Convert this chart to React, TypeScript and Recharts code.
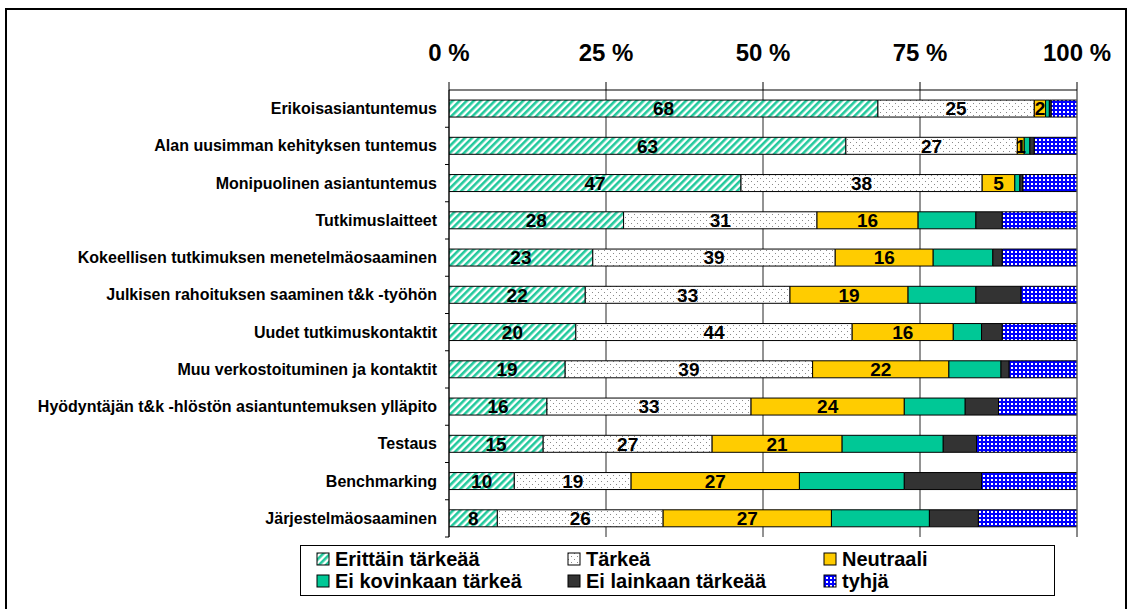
import { BarChart, Bar, XAxis, YAxis, CartesianGrid, LabelList, ReferenceLine } from 'recharts'

const categories = [
  'Erikoisasiantuntemus',
  'Alan uusimman kehityksen tuntemus',
  'Monipuolinen asiantuntemus',
  'Tutkimuslaitteet',
  'Kokeellisen tutkimuksen menetelmäosaaminen',
  'Julkisen rahoituksen saaminen t&k -työhön',
  'Uudet tutkimuskontaktit',
  'Muu verkostoituminen ja kontaktit',
  'Hyödyntäjän t&k -hlöstön asiantuntemuksen ylläpito',
  'Testaus',
  'Benchmarking',
  'Järjestelmäosaaminen',
]

const erittain = [68.3, 63.2, 46.5, 27.8, 22.9, 21.7, 20.2, 18.5, 15.6, 15.0, 10.4, 7.7]
const tarkea = [24.9, 27.3, 38.4, 30.8, 38.6, 32.6, 44.0, 39.4, 32.5, 26.9, 18.6, 26.4]
const neutraali = [1.8, 1.1, 5.2, 16.1, 15.6, 18.8, 16.1, 21.7, 24.4, 20.7, 26.8, 26.8]
const eiKovin = [0.6, 0.9, 0.8, 9.2, 9.5, 10.8, 4.5, 8.3, 9.7, 16.1, 16.7, 15.6]
const eiLain = [0.3, 0.7, 0.5, 4.2, 1.5, 7.2, 3.3, 1.3, 5.3, 5.3, 12.3, 7.8]
const tyhja = [4.1, 6.8, 8.6, 11.9, 11.9, 8.9, 11.9, 10.8, 12.5, 16.0, 15.2, 15.7]

const xTicks = [0, 25, 50, 75, 100]

const series = [
  { key: 'erittain', name: 'Erittäin tärkeää', fill: 'url(#hatch)', label: true },
  { key: 'tarkea', name: 'Tärkeä', fill: 'url(#dots)', label: true },
  { key: 'neutraali', name: 'Neutraali', fill: '#ffcc00', label: true },
  { key: 'eiKovin', name: 'Ei kovinkaan tärkeä', fill: '#00c896', label: false },
  { key: 'eiLain', name: 'Ei lainkaan tärkeää', fill: '#333333', label: false },
  { key: 'tyhja', name: 'tyhjä', fill: 'url(#plaid)', label: false },
]

const data = categories.map((name, i) => ({
  name,
  erittain: erittain[i],
  tarkea: tarkea[i],
  neutraali: neutraali[i],
  eiKovin: eiKovin[i],
  eiLain: eiLain[i],
  tyhja: tyhja[i],
}))

const FONT = '"Liberation Sans", Arial, sans-serif'
const PLOT_TOP = 90
const PLOT_BOTTOM = 537
const band = (PLOT_BOTTOM - PLOT_TOP) / categories.length

function CategoryTick(props: any) {
  const { x, y, payload } = props
  return (
    <g>
      <text
        x={x}
        y={y}
        textAnchor="end"
        dominantBaseline="central"
        fontFamily={FONT}
        fontWeight="bold"
        fontSize={16}
        fill="#000"
      >
        {payload.value}
      </text>
      <line x1={x + 8} x2={x + 12} y1={y + band / 2} y2={y + band / 2} stroke="#000" />
    </g>
  )
}

function Swatch({ fill }: { fill: string }) {
  return (
    <svg width={14} height={14} style={{ marginRight: 5, flexShrink: 0 }}>
      <rect x={1} y={1} width={12} height={12} fill={fill} stroke="#000" strokeWidth={1} />
    </svg>
  )
}

export default function App() {
  return (
    <div style={{ position: 'absolute', left: 0, top: 0, width: 1133, height: 609, background: '#fff', fontFamily: FONT }}>
      {/* outer frame */}
      <div style={{
        position: 'absolute', left: 5, top: 8, width: 1122, height: 610,
        border: '2px solid #000', boxSizing: 'border-box',
      }} />

      <BarChart
        width={1133}
        height={609}
        data={data}
        layout="vertical"
        margin={{ top: 40, right: 56, bottom: 72, left: 0 }}
        barCategoryGap="27%"
        style={{ position: 'absolute', left: 0, top: 0 }}
      >
        <defs>
          <pattern id="hatch" width={5} height={5} patternUnits="userSpaceOnUse" patternTransform="rotate(45)">
            <rect width={5} height={5} fill="#fff" />
            <rect width={2.6} height={5} fill="#22c99c" />
          </pattern>
          <pattern id="dots" width={6} height={6} patternUnits="userSpaceOnUse">
            <rect width={6} height={6} fill="#fff" />
            <rect x={1} y={1} width={1} height={1} fill="#8a8a8a" />
            <rect x={4} y={4} width={1} height={1} fill="#8a8a8a" />
          </pattern>
          <pattern id="plaid" width={4} height={4} patternUnits="userSpaceOnUse">
            <rect width={4} height={4} fill="#fff" />
            <rect x={0} y={1} width={4} height={2} fill="#0000ff" />
            <rect x={1} y={0} width={2} height={4} fill="#0000ff" />
          </pattern>
        </defs>

        <CartesianGrid horizontal={false} stroke="#000" strokeOpacity={0.85} />

        <XAxis
          type="number"
          orientation="top"
          domain={[0, 100]}
          ticks={xTicks}
          allowDataOverflow
          height={50}
          tickFormatter={(v) => `${v} %`}
          tick={{ fontSize: 24, fontWeight: 'bold', fill: '#000', fontFamily: FONT }}
          tickSize={8}
          tickMargin={21}
          axisLine={{ stroke: '#000' }}
          tickLine={{ stroke: '#000' }}
        />
        <XAxis
          xAxisId="bottom"
          type="number"
          orientation="bottom"
          domain={[0, 100]}
          height={0}
          tick={false}
          tickLine={false}
          axisLine={{ stroke: '#808080' }}
        />
        <YAxis
          type="category"
          dataKey="name"
          width={449}
          tickSize={0}
          tickMargin={12}
          tick={<CategoryTick />}
          axisLine={{ stroke: '#000' }}
          interval={0}
        />

        {series.map(s => (
          <Bar
            key={s.key}
            dataKey={s.key}
            name={s.name}
            stackId="a"
            fill={s.fill}
            stroke="#000"
            strokeWidth={1}
            isAnimationActive={false}
          >
            {s.label && (
              <LabelList
                dataKey={s.key}
                position="center"
                formatter={(v: any) => Math.round(Number(v))}
                style={{ fontSize: 19, fontWeight: 'bold', fill: '#000', fontFamily: FONT }}
              />
            )}
          </Bar>
        ))}

        <ReferenceLine x={100} stroke="#808080" />
      </BarChart>

      {/* legend */}
      <div style={{
        position: 'absolute', left: 300, top: 545, width: 755, height: 51,
        border: '1px solid #000', boxSizing: 'border-box', background: '#fff',
        display: 'grid', gridTemplateColumns: '251px 256px 1fr', gridTemplateRows: '22px 22px',
        padding: '2px 0 0 15px', fontSize: 20, fontWeight: 'bold', lineHeight: '22px',
      }}>
        {series.map(s => (
          <div key={s.key} style={{ display: 'flex', alignItems: 'center', whiteSpace: 'nowrap' }}>
            <Swatch fill={s.fill} />
            {s.name}
          </div>
        ))}
      </div>
    </div>
  )
}
